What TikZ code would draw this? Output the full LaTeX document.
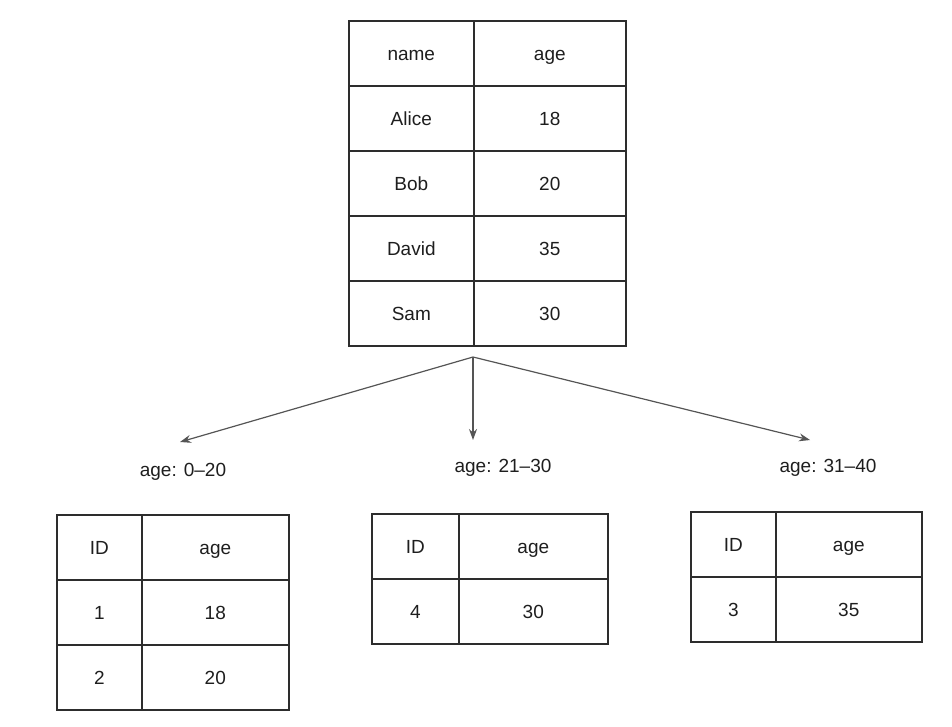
\documentclass[tikz,border=0pt]{standalone}
\usepackage{fontspec}
\setmainfont{Liberation Sans}
\usetikzlibrary{arrows.meta}
\definecolor{linegray}{RGB}{45, 45, 45}
\definecolor{arrowgray}{RGB}{85, 85, 85}
\definecolor{textgray}{RGB}{30, 30, 30}

\begin{document}
\begin{tikzpicture}[x=1pt, y=-1pt,
    cell/.style={draw=linegray, line width=1.6pt, minimum height=65pt, inner sep=0pt,
                 text height=16pt, text depth=2pt,
                 anchor=north west, text=textgray, font=\fontsize{19}{22}\selectfont},
    rangelabel/.style={text=textgray, font=\fontsize{19}{22}\selectfont},
    splitarrow/.style={draw=arrowgray, line width=1.2pt, -{Stealth[length=11pt, width=8pt]}}]
    \useasboundingbox (0,0) rectangle (952,726);
    % main table
    \foreach \n/\a [count=\i] in {name/age, Alice/18, Bob/20, David/35, Sam/30} {
      \node[cell, minimum width=125pt] (main-\i-a) at (348, {20+65*(\i-1)}) {\n};
      \node[cell, minimum width=152pt] (main-\i-b) at (473, {20+65*(\i-1)}) {\a};
    }
    % split point and arrow tips
    \coordinate (split) at (473,357);
    \coordinate (tip1) at (180,442);
    \coordinate (tip2) at (473,440);
    \coordinate (tip3) at (810,440);
    \draw[splitarrow] (split) -- (tip1);
    \draw[splitarrow] (split) -- (tip2);
    \draw[splitarrow] (split) -- (tip3);
    \node[rangelabel] (range1) at (183,472) {age: 0--20};
    \node[rangelabel] (range2) at (503,468) {age: 21--30};
    \node[rangelabel] (range3) at (828,468) {age: 31--40};
    % partition tables
    \foreach \id/\a [count=\i] in {ID/age, 1/18, 2/20} {
      \node[cell, minimum width=85pt] (partA-\i-a) at (56, {514+65*(\i-1)}) {\id};
      \node[cell, minimum width=147pt] (partA-\i-b) at (141, {514+65*(\i-1)}) {\a};
    }
    \foreach \id/\a [count=\i] in {ID/age, 4/30} {
      \node[cell, minimum width=87pt] (partB-\i-a) at (371, {513+65*(\i-1)}) {\id};
      \node[cell, minimum width=149pt] (partB-\i-b) at (458, {513+65*(\i-1)}) {\a};
    }
    \foreach \id/\a [count=\i] in {ID/age, 3/35} {
      \node[cell, minimum width=85pt] (partC-\i-a) at (690, {511+65*(\i-1)}) {\id};
      \node[cell, minimum width=146pt] (partC-\i-b) at (775, {511+65*(\i-1)}) {\a};
    }
\end{tikzpicture}
\end{document}
